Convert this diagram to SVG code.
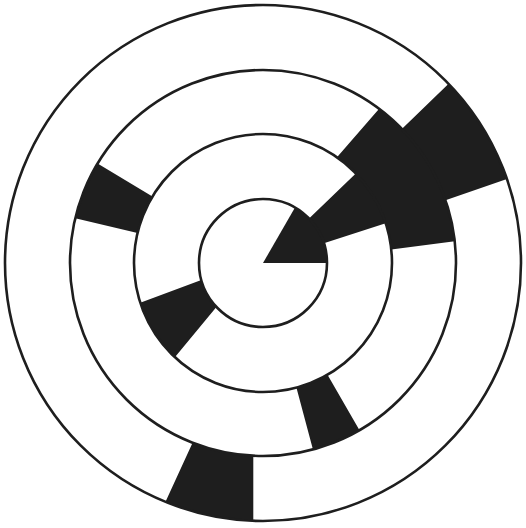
<svg xmlns="http://www.w3.org/2000/svg" width="526" height="528" viewBox="0 0 526 528">
<style>
.blk{fill:#1e1e1e;stroke:none}
.ring{fill:none;stroke:#1e1e1e;stroke-width:2.6}
</style>
<rect width="526" height="528" fill="#ffffff"/>
<g id="sectors">
<path id="s-disc" class="blk" d="M263,263 L327,263 A64 64 0 0 0 295,207.57 Z"/>
<path id="s-a-ur" class="blk" d="M385.69,223.14 A129 129 0 0 0 355.79,173.39 L309.04,218.54 A64 64 0 0 1 323.87,243.22 Z"/>
<path id="s-b-ur" class="blk" d="M454.76,241.15 A193 193 0 0 0 379.15,108.86 L336.99,157.33 A129 129 0 0 1 391.29,249.52 Z"/>
<path id="s-c-ur" class="blk" d="M506.94,179 A258 258 0 0 0 448.59,83.78 L401.83,128.93 A193 193 0 0 1 445.49,200.17 Z"/>
<path id="s-b-ul" class="blk" d="M97.57,163.6 A193 193 0 0 0 75.25,218.27 L137.51,233.1 A129 129 0 0 1 152.43,196.56 Z"/>
<path id="s-a-ll" class="blk" d="M140.25,302.65 A129 129 0 0 0 174.86,357.19 L216.42,306.89 A64 64 0 0 1 201.33,280.1 Z"/>
<path id="s-b-lr" class="blk" d="M312.95,449.42 A193 193 0 0 0 359.5,430.14 L327.5,374.72 A129 129 0 0 1 296.39,387.6 Z"/>
<path id="s-c-b" class="blk" d="M165.52,501.87 A258 258 0 0 0 253.3,520.8 L253.3,455.8 A193 193 0 0 1 192.58,442.69 Z"/>
</g>
<g id="rings">
<circle class="ring" cx="263" cy="263" r="64"/>
<circle class="ring" cx="263" cy="263" r="129"/>
<circle class="ring" cx="263" cy="263" r="193"/>
<circle class="ring" cx="263" cy="263" r="258"/>
</g>
</svg>
